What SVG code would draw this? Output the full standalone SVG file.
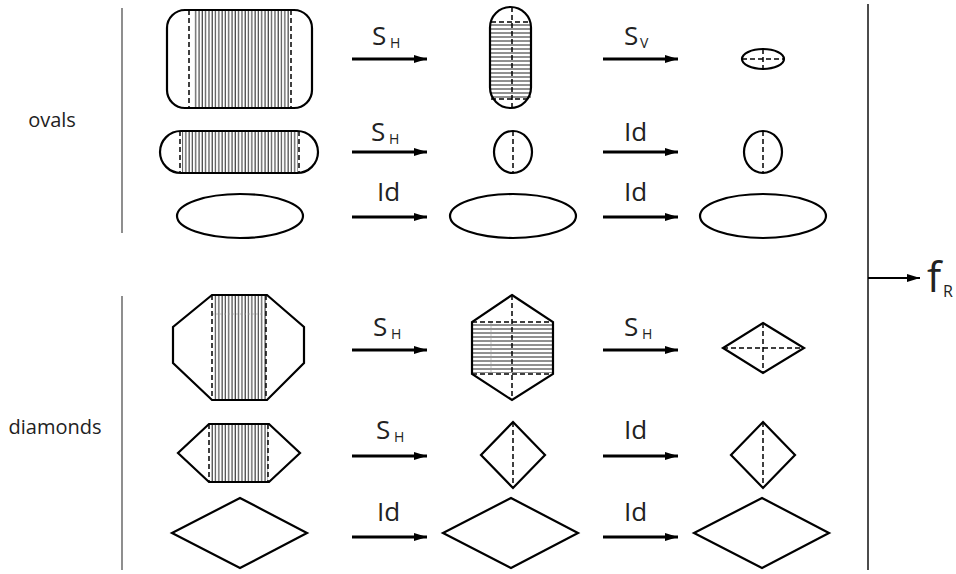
<svg xmlns="http://www.w3.org/2000/svg" width="956" height="574" viewBox="0 0 956 574">
<style>
.o{fill:none;stroke:#000;stroke-width:2.2;stroke-linejoin:miter}
.d{fill:none;stroke:#000;stroke-width:1.5;stroke-dasharray:5 3}
.c{fill:none;stroke:#000;stroke-width:3}
.b{fill:none;stroke:#444;stroke-width:1.2}
.t{font-family:"Open Sans","Noto Sans",sans-serif;fill:#222}
.L{font-size:26px}
.s{font-size:14px}
.lab{font-size:20px}
</style>
<defs>
<pattern id="vh" width="3.3" height="20" patternUnits="userSpaceOnUse"><line x1="1" y1="0" x2="1" y2="20" stroke="#222" stroke-width="1"/></pattern>
<pattern id="hh" width="20" height="4" patternUnits="userSpaceOnUse"><line x1="0" y1="1" x2="20" y2="1" stroke="#222" stroke-width="1"/></pattern>
<marker id="ah" markerWidth="13" markerHeight="8" refX="13" refY="4" orient="auto" markerUnits="userSpaceOnUse"><path d="M0,0 L13,4 L0,8 Z" fill="#000"/></marker>
</defs>

<g id="brackets">
<line class="b" x1="122" y1="8" x2="122" y2="233"/>
<line class="b" x1="122" y1="296" x2="122" y2="570"/>
<line x1="868" y1="4" x2="868" y2="570" stroke="#111" stroke-width="1.5"/>
</g>
<text class="t lab" x="52" y="127" text-anchor="middle">ovals</text>
<text class="t lab" x="55" y="434" text-anchor="middle">diamonds</text>

<g id="r1a">
<rect x="193" y="10" width="96" height="98" fill="url(#vh)"/>
<rect class="o" x="167" y="10" width="145" height="98" rx="18"/>
<line class="d" x1="189" y1="10" x2="189" y2="108"/>
<line class="d" x1="291" y1="10" x2="291" y2="108"/>
</g>
<g id="r1b">
<rect x="491" y="24" width="40" height="74" fill="url(#hh)"/>
<rect class="o" x="490" y="7" width="41" height="101" rx="20.5"/>
<line class="d" x1="491" y1="22" x2="531" y2="22"/>
<line class="d" x1="491" y1="99" x2="531" y2="99"/>
<line class="d" x1="512" y1="7" x2="512" y2="108"/>
</g>
<g id="r1c">
<ellipse class="o" cx="763" cy="59" rx="21" ry="10"/>
<line class="d" x1="742" y1="59" x2="784" y2="59"/>
<line class="d" x1="763" y1="49" x2="763" y2="69"/>
</g>

<g id="r2a">
<rect x="182" y="131" width="116" height="42" fill="url(#vh)"/>
<rect class="o" x="160" y="131" width="158" height="42" rx="21"/>
<line class="d" x1="180" y1="131" x2="180" y2="173"/>
<line class="d" x1="299" y1="131" x2="299" y2="173"/>
</g>
<g id="r2b">
<ellipse class="o" cx="513" cy="152" rx="19" ry="21"/>
<line class="d" x1="513" y1="131" x2="513" y2="173"/>
</g>
<g id="r2c">
<ellipse class="o" cx="763" cy="152" rx="19" ry="21"/>
<line class="d" x1="763" y1="131" x2="763" y2="173"/>
</g>

<g id="r3a"><ellipse class="o" cx="240" cy="216" rx="63" ry="22"/></g>
<g id="r3b"><ellipse class="o" cx="513" cy="216" rx="63" ry="22"/></g>
<g id="r3c"><ellipse class="o" cx="763" cy="216" rx="63" ry="22"/></g>

<g id="r4a">
<rect x="213" y="295" width="53" height="105" fill="url(#vh)"/>
<line x1="212" y1="314" x2="266" y2="314" stroke="#999" stroke-width="0.6" stroke-dasharray="2 2"/>
<polygon class="o" points="212,295 267,295 304,327 304,363 267,400 212,400 173,363 173,327"/>
<line class="d" x1="212" y1="295" x2="212" y2="400"/>
<line class="d" x1="266" y1="295" x2="266" y2="400"/>
</g>
<g id="r4b">
<rect x="472" y="324" width="81" height="49" fill="url(#hh)"/>
<line x1="491" y1="322" x2="491" y2="374" stroke="#999" stroke-width="0.6"/>
<polygon class="o" points="512,295 553,322 553,374 512,400 472,374 472,322"/>
<line class="d" x1="472" y1="322" x2="553" y2="322"/>
<line class="d" x1="472" y1="374" x2="553" y2="374"/>
<line class="d" x1="512" y1="295" x2="512" y2="400"/>
</g>
<g id="r4c">
<polygon class="o" points="763,323 804,348 763,373 723,348"/>
<line class="d" x1="723" y1="348" x2="804" y2="348"/>
<line class="d" x1="763" y1="323" x2="763" y2="373"/>
</g>

<g id="r5a">
<rect x="210" y="424" width="58" height="58" fill="url(#vh)"/>
<polygon class="o" points="209,424 269,424 300,453 269,482 209,482 178,453"/>
<line class="d" x1="209" y1="424" x2="209" y2="482"/>
<line class="d" x1="268" y1="424" x2="268" y2="482"/>
</g>
<g id="r5b">
<polygon class="o" points="513,422 545,455 513,488 481,455"/>
<line class="d" x1="513" y1="422" x2="513" y2="488"/>
</g>
<g id="r5c">
<polygon class="o" points="763,422 795,455 763,488 731,455"/>
<line class="d" x1="763" y1="422" x2="763" y2="488"/>
</g>

<g id="r6a"><polygon class="o" points="240,498 307,533 240,568 172,533"/></g>
<g id="r6b"><polygon class="o" points="511,498 578,533 511,568 443,533"/></g>
<g id="r6c"><polygon class="o" points="762,498 829,533 762,568 694,533"/></g>

<g id="connectors">
<line class="c" x1="352" y1="59" x2="427" y2="59" marker-end="url(#ah)"/>
<line class="c" x1="603" y1="59" x2="678" y2="59" marker-end="url(#ah)"/>
<line class="c" x1="352" y1="152" x2="427" y2="152" marker-end="url(#ah)"/>
<line class="c" x1="603" y1="152" x2="678" y2="152" marker-end="url(#ah)"/>
<line class="c" x1="352" y1="217" x2="427" y2="217" marker-end="url(#ah)"/>
<line class="c" x1="603" y1="217" x2="678" y2="217" marker-end="url(#ah)"/>
<line class="c" x1="352" y1="350" x2="427" y2="350" marker-end="url(#ah)"/>
<line class="c" x1="603" y1="350" x2="678" y2="350" marker-end="url(#ah)"/>
<line class="c" x1="352" y1="456" x2="427" y2="456" marker-end="url(#ah)"/>
<line class="c" x1="603" y1="456" x2="678" y2="456" marker-end="url(#ah)"/>
<line class="c" x1="352" y1="537" x2="427" y2="537" marker-end="url(#ah)"/>
<line class="c" x1="603" y1="537" x2="678" y2="537" marker-end="url(#ah)"/>
<line x1="868" y1="278" x2="920" y2="278" stroke="#000" stroke-width="2" marker-end="url(#ah)"/>
</g>

<g id="labels" class="t">
<text class="L" x="372" y="45">S</text><text class="s" x="390" y="48">H</text>
<text class="L" x="624" y="45">S</text><text class="s" x="640" y="48">V</text>
<text class="L" x="371" y="141">S</text><text class="s" x="389" y="144">H</text>
<text class="L" x="624" y="141">Id</text>
<text class="L" x="377" y="201">Id</text>
<text class="L" x="624" y="201">Id</text>
<text class="L" x="373" y="336">S</text><text class="s" x="391" y="339">H</text>
<text class="L" x="624" y="336">S</text><text class="s" x="642" y="339">H</text>
<text class="L" x="376" y="439">S</text><text class="s" x="394" y="442">H</text>
<text class="L" x="624" y="439">Id</text>
<text class="L" x="377" y="521">Id</text>
<text class="L" x="624" y="521">Id</text>
<text x="927" y="292" style="font-size:42px">f</text><text x="943" y="297" style="font-size:16px">R</text>
</g>
</svg>
